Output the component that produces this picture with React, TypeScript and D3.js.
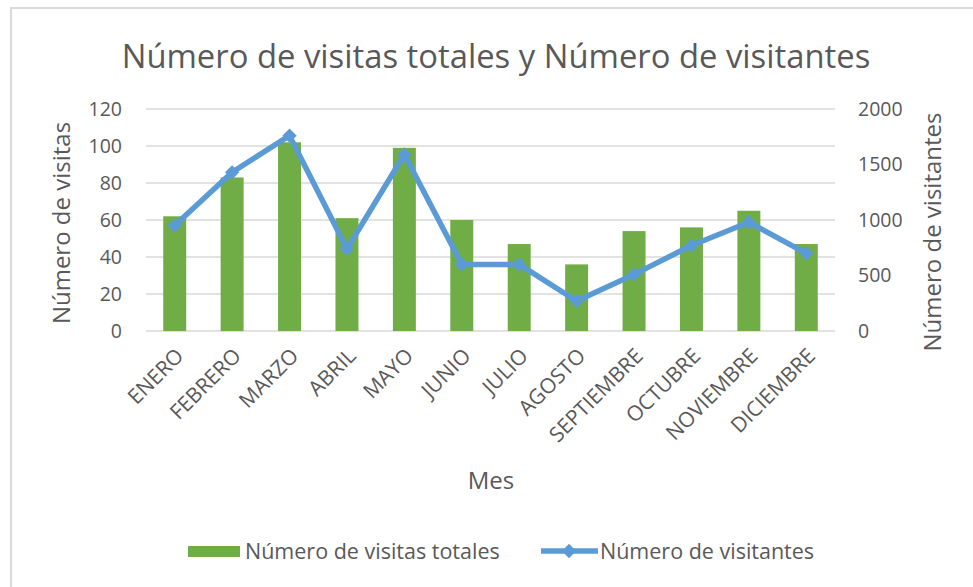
import React from 'react';
import * as d3 from 'd3';

const meses = ["ENERO", "FEBRERO", "MARZO", "ABRIL", "MAYO", "JUNIO", "JULIO", "AGOSTO", "SEPTIEMBRE", "OCTUBRE", "NOVIEMBRE", "DICIEMBRE"];
const visitasTotales = [62, 83, 102, 61, 99, 60, 47, 36, 54, 56, 65, 47];
const visitantes = [950, 1430, 1760, 740, 1590, 600, 600, 270, 510, 770, 980, 700];
const ticksVisitas = [0, 20, 40, 60, 80, 100, 120];
const ticksVisitantes = [0, 500, 1000, 1500, 2000];

const width = 973;
const height = 587;
const font = "'Open Sans', sans-serif";
const textColor = "#595959";
const green = "#70AD47";
const blue = "#5B9BD5";
const grid = "#D9D9D9";

function drawChart(ref) {
    const svg = d3.select(ref.current);
    svg.selectAll('*').remove();

    const marginLeft = 146, marginRight = 138, marginTop = 109, marginBottom = 256;

    const x = d3.scaleBand(meses, [marginLeft, width - marginRight]).paddingInner(0.6).paddingOuter(0.3);
    const yLeft = d3.scaleLinear([0, 120], [height - marginBottom, marginTop]);
    const yRight = d3.scaleLinear([0, 2000], [height - marginBottom, marginTop]);

    // chart area border
    svg.append("rect")
        .attr("x", 11).attr("y", 8)
        .attr("width", width).attr("height", height)
        .attr("fill", "white").attr("stroke", grid).attr("stroke-width", 2);

    // title
    svg.append("text")
        .attr("x", 496).attr("y", 68)
        .attr("text-anchor", "middle")
        .attr("font-family", font).attr("font-size", 32.8)
        .attr("fill", textColor)
        .text("Número de visitas totales y Número de visitantes");

    // gridlines
    svg.append("g")
        .selectAll("line")
        .data(ticksVisitas)
        .join("line")
        .attr("x1", marginLeft).attr("x2", width - marginRight)
        .attr("y1", d => yLeft(d)).attr("y2", d => yLeft(d))
        .attr("stroke", grid).attr("stroke-width", 1.5);

    // left axis
    svg.append("g")
        .attr("transform", `translate(${marginLeft},0)`)
        .call(d3.axisLeft(yLeft).tickValues(ticksVisitas).tickSize(0).tickPadding(24))
        .call(g => g.select(".domain").remove())
        .call(g => g.selectAll("text")
            .attr("font-family", font).attr("font-size", 19.5).attr("fill", textColor));

    // right axis
    svg.append("g")
        .attr("transform", `translate(${width - marginRight},0)`)
        .call(d3.axisRight(yRight).tickValues(ticksVisitantes).tickFormat(d3.format("d")).tickSize(0).tickPadding(23))
        .call(g => g.select(".domain").remove())
        .call(g => g.selectAll("text")
            .attr("font-family", font).attr("font-size", 19.5).attr("fill", textColor));

    // bars
    svg.append("g")
        .selectAll("rect")
        .data(visitasTotales)
        .join("rect")
        .attr("x", (d, i) => x(meses[i]))
        .attr("width", x.bandwidth())
        .attr("y", d => yLeft(d))
        .attr("height", d => yLeft(0) - yLeft(d))
        .attr("fill", green);

    // line
    const line = d3.line()
        .x((d, i) => x(meses[i]) + x.bandwidth() / 2)
        .y(d => yRight(d));

    svg.append("path")
        .datum(visitantes)
        .attr("d", line)
        .attr("fill", "none")
        .attr("stroke", blue)
        .attr("stroke-width", 5.5)
        .attr("stroke-linejoin", "round");

    const diamond = d3.symbol(d3.symbolDiamond2, 130);
    svg.append("g")
        .selectAll("path")
        .data(visitantes)
        .join("path")
        .attr("transform", (d, i) => `translate(${x(meses[i]) + x.bandwidth() / 2},${yRight(d)})`)
        .attr("d", diamond)
        .attr("fill", blue);

    // category labels
    svg.append("g")
        .selectAll("text")
        .data(meses)
        .join("text")
        .attr("transform", d => `translate(${x(d) + x.bandwidth() / 2 + 5},${height - marginBottom + 21}) rotate(-45)`)
        .attr("text-anchor", "end")
        .attr("dy", "0.35em")
        .attr("font-family", font).attr("font-size", 21).attr("fill", textColor)
        .text(d => d);

    // axis titles
    svg.append("text")
        .attr("x", 491).attr("y", 489)
        .attr("text-anchor", "middle")
        .attr("font-family", font).attr("font-size", 24).attr("fill", textColor)
        .text("Mes");

    svg.append("text")
        .attr("transform", `translate(70,223) rotate(-90)`)
        .attr("text-anchor", "middle")
        .attr("font-family", font).attr("font-size", 24).attr("fill", textColor)
        .text("Número de visitas");

    svg.append("text")
        .attr("transform", `translate(941,232) rotate(-90)`)
        .attr("text-anchor", "middle")
        .attr("font-family", font).attr("font-size", 24).attr("fill", textColor)
        .text("Número de visitantes");

    // legend
    const legend = svg.append("g").attr("font-family", font).attr("font-size", 21.5).attr("fill", textColor);
    legend.append("rect")
        .attr("x", 188).attr("y", 546).attr("width", 52).attr("height", 11)
        .attr("fill", green);
    legend.append("text")
        .attr("x", 245).attr("y", 551).attr("dy", "0.35em")
        .text("Número de visitas totales");
    legend.append("line")
        .attr("x1", 541).attr("x2", 598).attr("y1", 551).attr("y2", 551)
        .attr("stroke", blue).attr("stroke-width", 5.5);
    legend.append("path")
        .attr("transform", "translate(569,551)")
        .attr("d", diamond)
        .attr("fill", blue);
    legend.append("text")
        .attr("x", 600).attr("y", 551).attr("dy", "0.35em")
        .text("Número de visitantes");
}

export default function App() {
    const ref = React.useRef(null);
    React.useEffect(() => {
        drawChart(ref);
    }, []);
    return (
        <svg ref={ref} width={width} height={height}
            style={{ position: "absolute", left: 0, top: 0, background: "white" }} />
    );
}
